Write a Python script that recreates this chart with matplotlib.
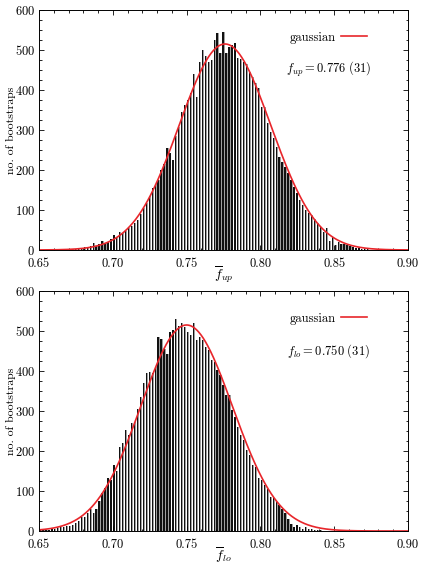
import numpy as np
import matplotlib
matplotlib.use("Agg")
import matplotlib.pyplot as plt
from matplotlib.ticker import MultipleLocator, FormatStrFormatter

plt.rcParams["font.family"] = "serif"
plt.rcParams["font.serif"] = ["cmr10", "DejaVu Serif"]
plt.rcParams["mathtext.fontset"] = "cm"
plt.rcParams["axes.formatter.use_mathtext"] = True

# ===== data =====
BIN_START = 0.651
BIN_STEP = 0.002

counts_up = [
    0, 0, 0, 0, 1, 1, 1, 0, 1, 1,
    2, 2, 3, 4, 4, 8, 8, 10, 18, 10,
    15, 23, 18, 21, 27, 37, 32, 46, 43, 48,
    55, 60, 68, 75, 90, 105, 117, 135, 154, 165,
    175, 200, 215, 254, 242, 225, 285, 308, 345, 362,
    375, 392, 440, 383, 471, 500, 485, 471, 475, 525,
    542, 492, 546, 492, 508, 512, 517, 479, 477, 471,
    464, 446, 433, 418, 406, 358, 357, 317, 296, 280,
    258, 233, 221, 208, 193, 175, 158, 142, 125, 112,
    100, 92, 87, 77, 67, 57, 46, 54, 23, 33,
    12, 21, 15, 15, 12, 10, 7, 6, 4, 3,
    3, 2, 1, 1, 1, 1, 0, 1, 0, 1,
    0, 0, 0, 0, 0,
]

counts_lo = [
    2, 2, 3, 3, 4, 5, 8, 9, 11, 13,
    12, 16, 20, 25, 36, 35, 45, 56, 44, 54,
    75, 95, 108, 132, 128, 165, 151, 211, 219, 252,
    240, 269, 273, 306, 336, 369, 396, 398, 394, 411,
    484, 481, 456, 442, 498, 502, 529, 512, 519, 511,
    498, 490, 519, 477, 485, 478, 461, 452, 427, 423,
    402, 390, 365, 340, 340, 302, 286, 261, 240, 227,
    202, 190, 165, 161, 132, 127, 115, 104, 86, 82,
    72, 64, 56, 45, 30, 18, 11, 15, 9, 6,
    9, 6, 4, 3, 3, 2, 1, 1, 0, 1,
    0, 0, 0, 0, 0, 0, 0, 0, 0, 0,
    0, 0, 0, 0, 0, 0, 0, 0, 0, 0,
    0, 0, 0, 0, 0,
]

# gaussian fits: mean, sigma, peak height
fit_up = (0.776, 0.031, 515)
fit_lo = (0.750, 0.031, 515)

labels_up = (r"$\overline{f}_{up}$", r"$f_{up} = 0.776\ (31)$")
labels_lo = (r"$\overline{f}_{lo}$", r"$f_{lo} = 0.750\ (31)$")

RED = "#e8262b"


def draw_panel(ax, counts, fit, labels):
    centers = BIN_START + BIN_STEP * np.arange(len(counts))
    # boxes: light fill with a dark left edge, like the gnuplot output
    ax.bar(centers, counts, width=0.0015, color="#a0a0a0", linewidth=0)
    ax.bar(centers - 0.0003, counts, width=0.0009, color="#111111", linewidth=0)
    xs = np.linspace(0.65, 0.90, 500)
    mu, sig, amp = fit
    line, = ax.plot(xs, amp * np.exp(-0.5 * ((xs - mu) / sig) ** 2),
                    color=RED, lw=1.2, label="gaussian")
    ax.set_xlim(0.65, 0.90)
    ax.set_ylim(0, 600)
    ax.xaxis.set_major_locator(MultipleLocator(0.05))
    ax.xaxis.set_minor_locator(MultipleLocator(0.01))
    ax.yaxis.set_major_locator(MultipleLocator(100))
    ax.yaxis.set_minor_locator(MultipleLocator(25))
    ax.xaxis.set_major_formatter(FormatStrFormatter("%.2f"))
    ax.tick_params(which="both", direction="in", top=True, right=True,
                   labelsize=9, width=0.6)
    ax.tick_params(which="major", length=3.5)
    ax.tick_params(which="minor", length=1.8)
    ax.tick_params(axis="x", pad=5.5)
    ax.tick_params(axis="y", pad=3)
    for s in ax.spines.values():
        s.set_linewidth(0.7)
    ax.set_ylabel("no. of bootstraps", fontsize=8.5)
    ax.yaxis.set_label_coords(-0.063, 0.5)
    ax.set_xlabel(labels[0], fontsize=10, labelpad=-4)
    ax.legend(handles=[line], loc="center right", bbox_to_anchor=(0.889, 0.885),
              frameon=False, markerfirst=False, fontsize=9, handlelength=2.1,
              handletextpad=0.4, borderpad=0, borderaxespad=0)
    ax.text(0.785, 0.75, labels[1], transform=ax.transAxes, ha="center",
            va="center", fontsize=9)


fig = plt.figure(figsize=(4.25, 5.67), dpi=100)
ax1 = fig.add_axes([0.0918, 0.5591, 0.8682, 0.4233])
ax2 = fig.add_axes([0.0918, 0.0635, 0.8682, 0.4233])
draw_panel(ax1, counts_up, fit_up, labels_up)
draw_panel(ax2, counts_lo, fit_lo, labels_lo)

fig.savefig("out.png", dpi=100)
